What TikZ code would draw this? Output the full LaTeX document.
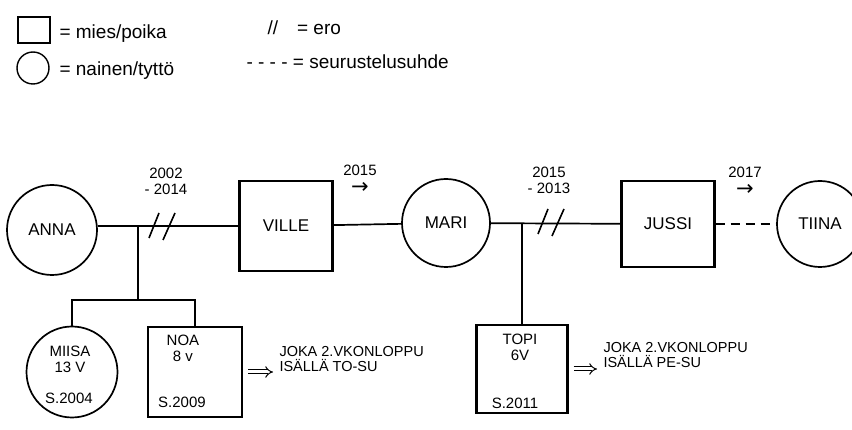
\documentclass[tikz,border=0pt]{standalone}
\usepackage{fontspec}
\setmainfont{Liberation Sans}
\newfontfamily\arrowfont{DejaVu Sans}
\usetikzlibrary{arrows.meta,positioning}

\tikzset{
  person/.style={draw, line width=1.7pt, inner sep=0pt, font=\fontsize{17}{20}\selectfont},
  female/.style={person, circle},
  male/.style={person, rectangle, line width=2.1pt},
  kid/.style={font=\fontsize{15}{16}\selectfont, align=center},
  years/.style={font=\fontsize{15}{16}\selectfont, align=center},
  legtext/.style={anchor=west, font=\fontsize{19}{21}\selectfont},
  visitnote/.style={anchor=west, align=left, font=\fontsize{14.5}{15}\selectfont},
  tie/.style={line width=1.7pt},
  ero/.style={line width=1.6pt},
  dating/.style={line width=1.7pt, dash pattern=on 9pt off 6pt},
  visitarrow/.style={double, double distance=3pt, line width=1pt, -{Implies}}
}

\begin{document}
\begin{tikzpicture}[x=1pt, y=-1pt]
\useasboundingbox (0,0) rectangle (852,430);

% Legend
\node[male, minimum width=32pt, minimum height=26pt, line width=1.4pt] (legmale) at (34,30) {};
\node[legtext] (legmaletext) at (56,34) {= mies/poika};
\node[female, minimum size=32pt, line width=1.4pt] (legfemale) at (33,68) {};
\node[legtext] (legfemaletext) at (56,71) {= nainen/tyttö};
\node[legtext] (legero) at (264,28) {//\quad= ero};
\node[legtext] (legdating) at (243,62) {- - - - = seurustelusuhde};

% Parents
\node[female, minimum size=90pt] (anna) at (52,230) {ANNA};
\node[male, minimum width=93pt, minimum height=90pt] (ville) at (286,226) {VILLE};
\node[female, minimum size=88pt] (mari) at (446,223) {MARI};
\node[male, minimum width=93pt, minimum height=86pt] (jussi) at (668,224) {JUSSI};
\node[female, minimum size=86pt] (tiina) at (820,224) {TIINA};

% Children
\node[female, minimum size=91pt] (miisa) at (72,372) {};
\node[kid] (miisaname) at (70,359) {MIISA\\13 V};
\node[kid] (miisaborn) at (69,398) {S.2004};
\node[male, minimum width=94pt, minimum height=90pt] (noa) at (195,372) {};
\node[kid] (noaname) at (183,348) {NOA\\8 v};
\node[kid] (noaborn) at (182,402) {S.2009};
\node[male, minimum width=91pt, minimum height=88pt] (topi) at (522,369) {};
\node[kid] (topiname) at (520,347) {TOPI\\6V};
\node[kid] (topiborn) at (515,403) {S.2011};

% Visiting weekends
\node[visitnote] (noavisit) at (276,359) {JOKA 2.VKONLOPPU\\ISÄLLÄ TO-SU};
\node[visitnote] (topivisit) at (600,355) {JOKA 2.VKONLOPPU\\ISÄLLÄ PE-SU};
\draw[visitarrow] ([xshift=5pt]noa.east) -- ([xshift=-3pt]noa.east -| noavisit.west);
\draw[visitarrow] ([xshift=5pt]topi.east) -- ([xshift=-3pt]topi.east -| topivisit.west);

% Relations
\draw[tie] (ville.west) -- (ville.west -| anna.east);
\draw[tie] (ville) -- (mari);
\draw[tie] (mari) -- (jussi);
\draw[dating] (jussi) -- (tiina);

% Lines to children
\coordinate (annaville) at (138,226);
\coordinate (annavillekids) at (138,300);
\draw[tie] (annaville) -- (annavillekids);
\draw[tie] (miisa.north) |- (annavillekids) -| (noa.north);
\coordinate (marijussi) at (topi.north |- mari.east);
\draw[tie] (marijussi) -- (topi.north);

% Divorce marks
\coordinate (annavilleero) at (162,226);
\coordinate (marijussiero) at (551,222);
\foreach \c in {annavilleero, marijussiero}
  \draw[ero, shift={(\c)}] (-13,12) -- (-3,-13) (1,14) -- (13,-13);

% Years
\node[years] (annavilleyears) at (166,181) {2002\\- 2014};
\node[years] (villemariyear) at (360,179) {2015\\[2pt]{\arrowfont\fontsize{21}{16}\selectfont →}};
\node[years] (marijussiyears) at (549,180) {2015\\- 2013};
\node[years] (jussitiinayear) at (745,181) {2017\\[2pt]{\arrowfont\fontsize{21}{16}\selectfont →}};
\end{tikzpicture}
\end{document}
